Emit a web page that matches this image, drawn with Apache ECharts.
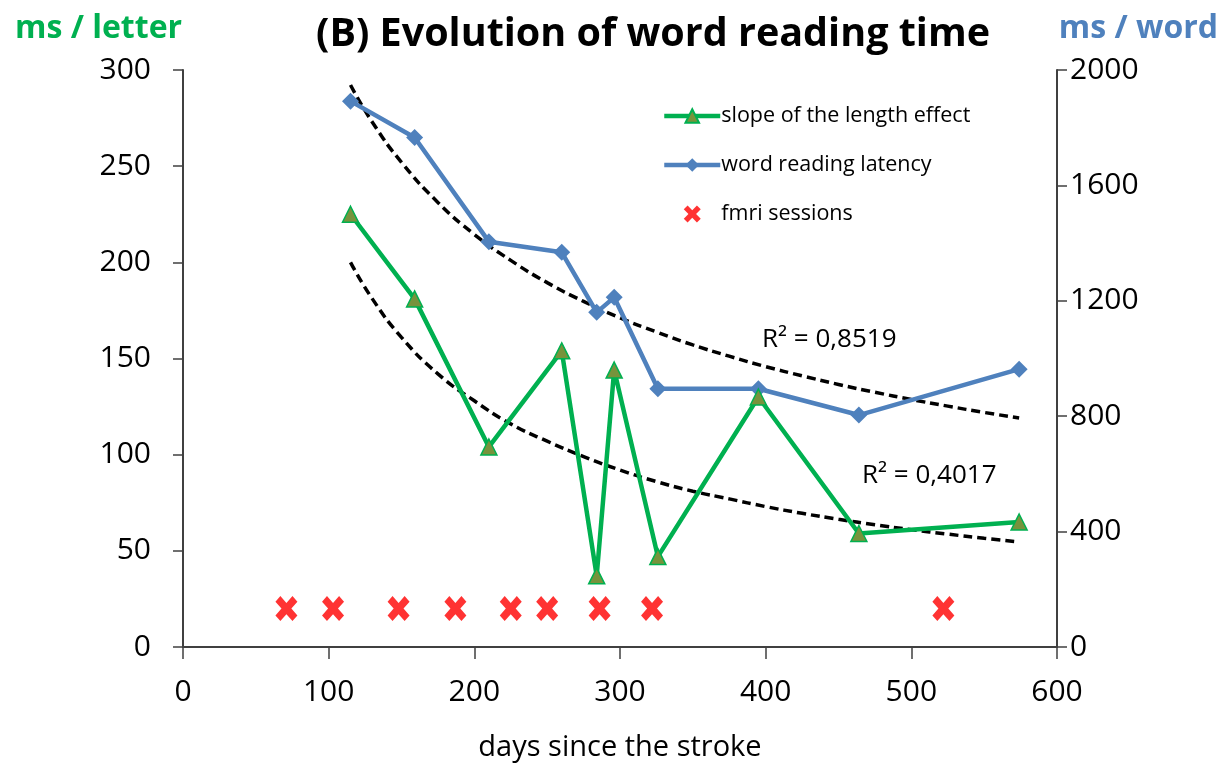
<!DOCTYPE html>
<html><head><meta charset="utf-8">
<script src="https://cdn.jsdelivr.net/npm/echarts@6/dist/echarts.min.js"></script>
<style>html,body{margin:0;padding:0;background:#fff}#c{width:1227px;height:767px}</style>
</head><body><div id="c"></div>
<script>
const days = [115, 159, 210, 260, 284, 296, 326, 395, 464, 574];
const letterSlope = [225, 181, 104, 154, 37, 144, 47, 130, 59, 65];
const wordLatency = [1892, 1766, 1405, 1368, 1160, 1212, 895, 895, 804, 963];
const fmriDays = [71, 103, 148, 187, 225, 250, 286, 322, 522];
const fmriLevel = [20, 20, 20, 20, 20, 20, 20, 20, 20];
const trendDays = [115, 130, 150, 175, 200, 225, 250, 275, 300, 325, 350, 375, 400, 425, 450, 475, 500, 525, 550, 574];
const trendWord = [1948, 1819, 1680, 1541, 1430, 1340, 1263, 1198, 1141, 1092, 1047, 1008, 972, 940, 910, 883, 858, 835, 813, 794];
const trendLetter = [200, 181, 161, 142, 128, 116, 107, 99, 92, 86, 81, 77, 73, 69.5, 66.4, 63.6, 61, 58.7, 56.5, 54.6];
const xTicks = [0, 100, 200, 300, 400, 500, 600];

const pairs = (xs, ys) => xs.map((x, i) => [x, ys[i]]);
const FONT = 'Open Sans, Liberation Sans, sans-serif';
const GREEN = '#00B050', BLUE = '#4F81BD';
const xPath = 'path://M4.5,0 L10,5.5 L15.5,0 L20,4.5 L14.5,10 L20,15.5 L15.5,20 L10,14.5 L4.5,20 L0,15.5 L5.5,10 L0,4.5 Z';

const chart = echarts.init(document.getElementById('c'));
chart.setOption({
  animation: false,
  textStyle: { fontFamily: FONT },
  title: [
    { text: '(B) Evolution of word reading time', left: 311, top: 10, textStyle: { fontSize: 39.5, fontWeight: 'bold', color: '#000', fontFamily: FONT } },
    { text: 'ms / letter', left: 10, top: 8, textStyle: { fontSize: 32, fontWeight: 'bold', color: GREEN, fontFamily: FONT } },
    { text: 'ms / word', right: 4, top: 8, textStyle: { fontSize: 32, fontWeight: 'bold', color: BLUE, fontFamily: FONT } }
  ],
  grid: { left: 183, right: 170, top: 70, bottom: 120, containLabel: false },
  legend: {
    orient: 'vertical', left: 657, top: 100, itemGap: 27, itemWidth: 56, itemHeight: 17,
    data: [
      { name: 'slope of the length effect', lineStyle: { width: 4.5 } },
      { name: 'word reading latency', lineStyle: { width: 4.5 } },
      { name: 'fmri sessions' }
    ],
    textStyle: { fontSize: 21.5, color: '#000', fontFamily: FONT, padding: [0, 0, 0, -4] }
  },
  xAxis: {
    type: 'value', min: 0, max: 600, interval: 100,
    name: 'days since the stroke', nameLocation: 'middle', nameGap: 86,
    nameTextStyle: { fontSize: 29, color: '#000', fontFamily: FONT },
    axisLine: { show: true, lineStyle: { color: '#404040', width: 2 } },
    axisTick: { show: true, inside: false, length: 12, lineStyle: { color: '#404040', width: 1.5 } },
    axisLabel: { fontSize: 30, color: '#000', margin: 30, fontFamily: FONT, formatter: v => xTicks.includes(v) ? String(v) : '' },
    splitLine: { show: false }
  },
  yAxis: [
    { type: 'value', min: 0, max: 300, interval: 50, position: 'left',
      axisLine: { show: true, lineStyle: { color: '#404040', width: 2 } },
      axisTick: { show: true, length: 10, lineStyle: { color: '#404040', width: 1.5 } },
      axisLabel: { fontSize: 30, color: '#000', margin: 32, fontFamily: FONT },
      splitLine: { show: false } },
    { type: 'value', min: 0, max: 2000, interval: 400, position: 'right',
      axisLine: { show: true, lineStyle: { color: '#404040', width: 2 } },
      axisTick: { show: true, length: 10, lineStyle: { color: '#404040', width: 1.5 } },
      axisLabel: { fontSize: 30, color: '#000', margin: 13, fontFamily: FONT, formatter: v => String(v) },
      splitLine: { show: false } }
  ],
  series: [
    { name: 'trend word', type: 'line', yAxisIndex: 1, data: pairs(trendDays, trendWord), symbol: 'none', smooth: true,
      lineStyle: { color: '#000', width: 3.5, type: [9, 5] }, z: 1, silent: true },
    { name: 'trend letter', type: 'line', yAxisIndex: 0, data: pairs(trendDays, trendLetter), symbol: 'none', smooth: true,
      lineStyle: { color: '#000', width: 3.5, type: [9, 5] }, z: 1, silent: true },
    { name: 'word reading latency', type: 'line', yAxisIndex: 1, data: pairs(days, wordLatency),
      symbol: 'diamond', symbolSize: 17, lineStyle: { color: BLUE, width: 4.5 },
      itemStyle: { color: BLUE }, z: 3 },
    { name: 'slope of the length effect', type: 'line', yAxisIndex: 0, data: pairs(days, letterSlope),
      symbol: 'triangle', symbolSize: 16, lineStyle: { color: GREEN, width: 4.5 },
      itemStyle: { color: '#77933C', borderColor: GREEN, borderWidth: 1.5 }, z: 4 },
    { name: 'fmri sessions', type: 'scatter', yAxisIndex: 0, data: pairs(fmriDays, fmriLevel),
      symbol: xPath, symbolSize: [22, 25], itemStyle: { color: '#FF0000' }, z: 5 }
  ],
  graphic: [
    { type: 'text', left: 762, top: 327, style: { text: 'R² = 0,8519', font: '26px ' + FONT, fill: '#000' } },
    { type: 'text', left: 862, top: 463, style: { text: 'R² = 0,4017', font: '26px ' + FONT, fill: '#000' } }
  ]
});
</script></body></html>
